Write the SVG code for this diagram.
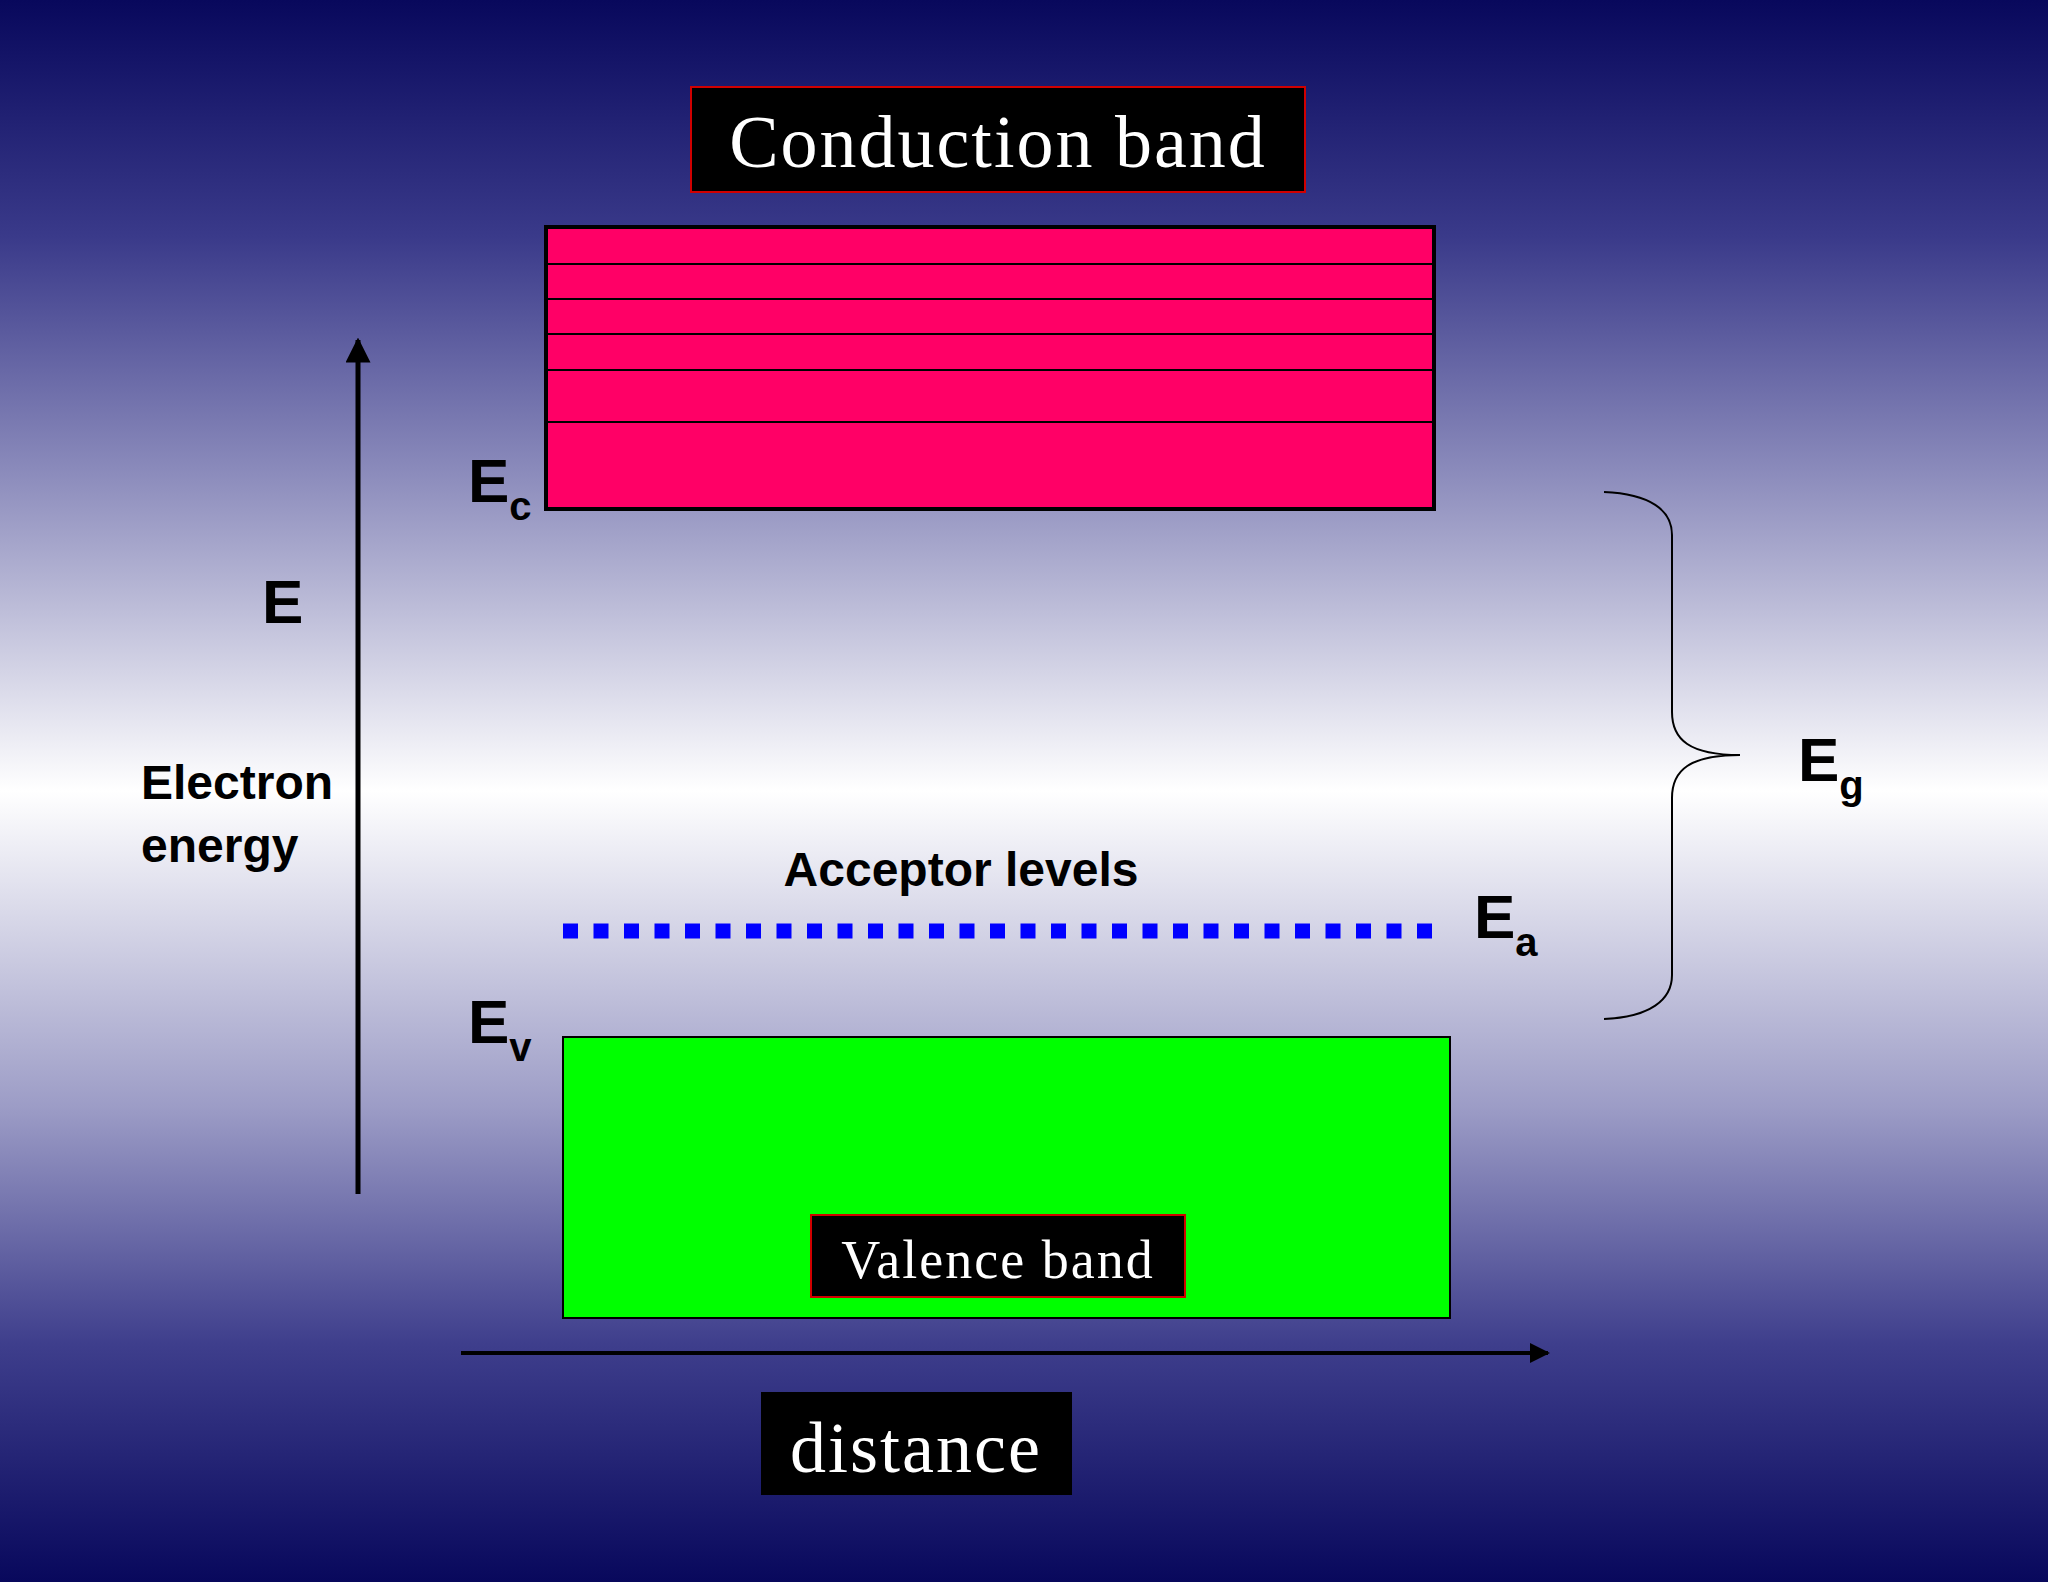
<svg xmlns="http://www.w3.org/2000/svg" width="2048" height="1582" viewBox="0 0 2048 1582">
<defs>
<linearGradient id="bg" x1="0" y1="0" x2="0" y2="1">
<stop offset="0" stop-color="#08085c"/>
<stop offset="0.15" stop-color="#3a3a8a"/>
<stop offset="0.3" stop-color="#8c8cbc"/>
<stop offset="0.5" stop-color="#ffffff"/>
<stop offset="0.7" stop-color="#9c9cc6"/>
<stop offset="0.85" stop-color="#3e3e8c"/>
<stop offset="1" stop-color="#08085c"/>
</linearGradient>
<marker id="ah" viewBox="0 0 10 10" refX="9" refY="5" markerWidth="5" markerHeight="5" orient="auto"><path d="M0,0 L10,5 L0,10 Z" fill="#000"/></marker>
</defs>
<style>
.sans{font-family:"Liberation Sans",Arial,sans-serif;font-weight:bold;fill:#000}
.serif{font-family:"Liberation Serif","Times New Roman",serif;fill:#fff;letter-spacing:2px}
.lab{fill:#000;stroke:#d00000;stroke-width:2}
.ln{stroke:#000;stroke-width:2}
</style>
<rect width="2048" height="1582" fill="url(#bg)"/>
<g id="conduction">
<rect x="546" y="227" width="888" height="282" fill="#ff0066" stroke="#000" stroke-width="4"/>
<line class="ln" x1="548" y1="264" x2="1432" y2="264"/>
<line class="ln" x1="548" y1="299" x2="1432" y2="299"/>
<line class="ln" x1="548" y1="334" x2="1432" y2="334"/>
<line class="ln" x1="548" y1="370" x2="1432" y2="370"/>
<line class="ln" x1="548" y1="422" x2="1432" y2="422"/>
</g>
<g id="conduction-label">
<rect class="lab" x="691" y="87" width="614" height="105"/>
<text class="serif" x="998" y="167" font-size="74" text-anchor="middle">Conduction band</text>
</g>
<g id="valence">
<rect x="563" y="1037" width="887" height="281" fill="#00ff00" stroke="#000" stroke-width="2"/>
</g>
<g id="valence-label">
<rect class="lab" x="811" y="1215" width="374" height="82"/>
<text class="serif" x="998" y="1278" font-size="54" text-anchor="middle">Valence band</text>
</g>
<g id="distance-label">
<rect x="761" y="1392" width="311" height="103" fill="#000"/>
<text class="serif" x="916" y="1472" font-size="72" text-anchor="middle">distance</text>
</g>
<g id="acceptor">
<line x1="563" y1="931" x2="1446" y2="931" stroke="#0000ff" stroke-width="15" stroke-dasharray="15 15.5"/>
<text class="sans" x="961" y="886" font-size="48" text-anchor="middle">Acceptor levels</text>
</g>
<g id="connectors">
<line x1="358" y1="1194" x2="358" y2="340" stroke="#000" stroke-width="5" marker-end="url(#ah)"/>
<line x1="461" y1="1353" x2="1548" y2="1353" stroke="#000" stroke-width="4" marker-end="url(#ah)"/>
<path d="M1604,492 C1650,494 1672,510 1672,535 L1672,712 C1672,740 1690,755 1740,755 C1690,755 1672,770 1672,798 L1672,975 C1672,1000 1650,1017 1604,1019" fill="none" stroke="#000" stroke-width="2"/>
</g>
<g id="labels">
<text class="sans" x="262" y="623" font-size="62">E</text>
<text class="sans" x="141" y="799" font-size="48">Electron</text>
<text class="sans" x="141" y="862" font-size="48">energy</text>
<text class="sans" x="468" y="502" font-size="62">E<tspan font-size="40" dy="18">c</tspan></text>
<text class="sans" x="468" y="1043" font-size="62">E<tspan font-size="40" dy="18">v</tspan></text>
<text class="sans" x="1474" y="938" font-size="62">E<tspan font-size="40" dy="18">a</tspan></text>
<text class="sans" x="1798" y="781" font-size="62">E<tspan font-size="40" dy="18">g</tspan></text>
</g>
</svg>
